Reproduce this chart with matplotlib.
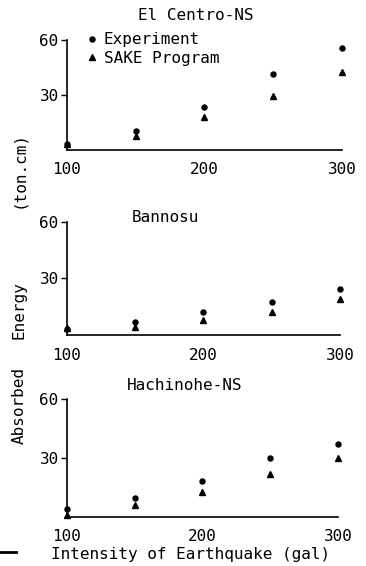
import matplotlib
matplotlib.use('Agg')
import matplotlib.pyplot as plt
from matplotlib.lines import Line2D

plt.rcParams['font.family'] = ['DejaVu Sans Mono']
plt.rcParams['font.size'] = 11.5

# intensita' del sisma (gal)
intensity = [100, 150, 200, 250, 300]

# energia assorbita (ton.cm)
elcentro_exp = [3, 10.5, 23.5, 41.5, 56]
elcentro_sake = [3.3, 7.5, 18, 29.5, 42.5]

bannosu_exp = [3, 7, 12, 17.7, 24.5]
bannosu_sake = [3.5, 4.5, 8, 12, 19]

hachinohe_exp = [4, 9.5, 18.5, 30, 37]
hachinohe_sake = [1, 6, 12.5, 22, 30]

titles = ['El Centro-NS', 'Bannosu', 'Hachinohe-NS']
yticks = [30, 60]
xticks = [100, 200, 300]

fig = plt.figure(figsize=(3.66, 5.66), dpi=100)

# posizioni dei tre pannelli (frazioni della figura)
boxes = [
    [0.183, 0.735, 0.751, 0.194],
    [0.183, 0.408, 0.746, 0.200],
    [0.183, 0.0866, 0.740, 0.208],
]
data = [
    (elcentro_exp, elcentro_sake),
    (bannosu_exp, bannosu_sake),
    (hachinohe_exp, hachinohe_sake),
]
title_pos = [(194, 73.5), (172, 62.5), (187, 67)]

for i, (box, (exp, sake)) in enumerate(zip(boxes, data)):
    ax = fig.add_axes(box)
    ax.plot(intensity, exp, linestyle='none', marker='o', markersize=3.6,
            color='black', clip_on=False)
    ax.plot(intensity, sake, linestyle='none', marker='^', markersize=5,
            color='black', clip_on=False)
    ax.set_xlim(100, 300)
    ax.set_ylim(0, 60)
    ax.set_xticks(xticks)
    ax.set_yticks(yticks)
    ax.spines['top'].set_visible(False)
    ax.spines['right'].set_visible(False)
    ax.spines['left'].set_linewidth(1.2)
    ax.spines['bottom'].set_linewidth(1.2)
    ax.tick_params(axis='x', length=0, pad=9)
    ax.tick_params(axis='y', length=4, width=1, direction='out', pad=2)
    ax.text(title_pos[i][0], title_pos[i][1], titles[i], ha='center',
            va='center', clip_on=False)
    if i == 0:
        handles = [
            Line2D([], [], linestyle='none', marker='o', markersize=3.6, color='black'),
            Line2D([], [], linestyle='none', marker='^', markersize=5, color='black'),
        ]
        ax.legend(handles, ['Experiment', 'SAKE Program'], loc='upper left',
                  bbox_to_anchor=(0.075, 1.07), frameon=False, handlelength=0.6,
                  handletextpad=0.4, labelspacing=0.2, borderpad=0,
                  borderaxespad=0)

# etichetta asse y spezzata come nell'originale
fig.text(0.052, 1 - 170 / 566, '(ton.cm)', rotation=90, ha='center', va='center')
fig.text(0.052, 1 - 310 / 566, 'Energy', rotation=90, ha='center', va='center')
fig.text(0.052, 1 - 405 / 566, 'Absorbed', rotation=90, ha='center', va='center')

fig.text(191 / 366, 1 - 555 / 566, 'Intensity of Earthquake (gal)',
         ha='center', va='center')

# trattino nero in basso a sinistra presente nella scansione
fig.add_artist(Line2D([0, 0.045], [1 - 552 / 566] * 2, color='black', linewidth=2))

fig.savefig('out.png', dpi=100)
